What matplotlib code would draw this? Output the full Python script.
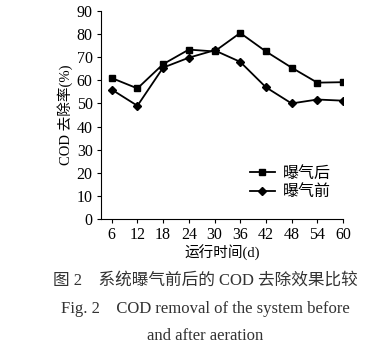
import matplotlib.pyplot as plt

plt.rcParams['font.family'] = ['Liberation Serif', 'Noto Sans CJK SC']

days = [6, 12, 18, 24, 30, 36, 42, 48, 54, 60]
after = [61.0, 56.5, 67.0, 73.3, 72.5, 80.5, 72.5, 65.5, 59.0, 59.2]
before = [56.0, 49.0, 65.5, 69.8, 73.0, 68.0, 57.0, 50.0, 51.7, 51.2]

fig = plt.figure(figsize=(3.86, 3.54), dpi=100)
ax = fig.add_axes([0.2617, 0.3814, 0.6269, 0.5875])

ax.plot(days, after, '-s', color='black', markersize=5, linewidth=1.3, label='曝气后')
ax.plot(days, before, '-D', color='black', markersize=4, linewidth=1.3, label='曝气前')

ax.set_xlim(3.5, 60)
ax.set_ylim(0, 90)
ax.set_xticks(days)
ax.set_yticks(range(0, 91, 10))
ax.tick_params(labelsize=11.5, length=3, width=0.8, pad=3)
for s in ['top', 'right']:
    ax.spines[s].set_visible(False)
ax.set_xlabel('运行时间(d)', fontsize=10.5, labelpad=1)
ax.set_ylabel('COD 去除率(%)', fontsize=10.5, labelpad=3)
ax.legend(loc='lower right', bbox_to_anchor=(1.01, 0.02), frameon=False,
          fontsize=11.5, handlelength=1.6, labelspacing=0.15, handletextpad=0.5)

fig.text(0.531, 1 - 281 / 354, '图 2    系统曝气前后的 COD 去除效果比较',
         ha='center', va='center', fontsize=12, color='#333333')
fig.text(0.531, 1 - 309 / 354, 'Fig. 2    COD removal of the system before',
         ha='center', va='center', fontsize=12, color='#333333')
fig.text(0.531, 1 - 336 / 354, 'and after aeration',
         ha='center', va='center', fontsize=12, color='#333333')

fig.savefig('out.png', dpi=100)
